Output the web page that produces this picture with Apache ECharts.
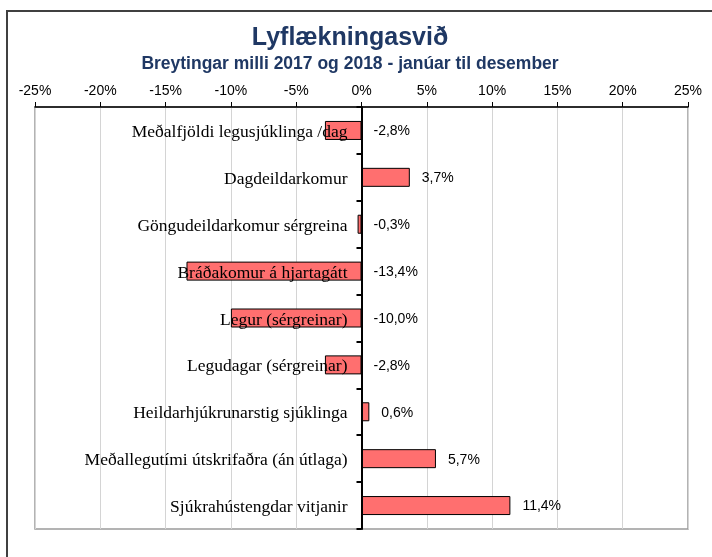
<!DOCTYPE html>
<html>
<head>
<meta charset="utf-8">
<script src="https://cdn.jsdelivr.net/npm/echarts@6/dist/echarts.min.js"></script>
<style>
  html, body { margin: 0; padding: 0; background: #fff; }
  #frame { position: absolute; left: 6px; top: 10px; width: 720px; height: 560px;
           border-top: 2px solid #404040; border-left: 2px solid #404040; }
  #chart { position: absolute; left: 0; top: 0; width: 712px; height: 557px; }
</style>
</head>
<body>
<div id="frame"></div>
<div id="chart"></div>
<script>
// flokkar og breytingar í %
var categories = [
    'Meðalfjöldi legusjúklinga /dag',
    'Dagdeildarkomur',
    'Göngudeildarkomur sérgreina',
    'Bráðakomur á hjartagátt',
    'Legur (sérgreinar)',
    'Legudagar (sérgreinar)',
    'Heildarhjúkrunarstig sjúklinga',
    'Meðallegutími útskrifaðra (án útlaga)',
    'Sjúkrahústengdar vitjanir'
];
var changes = [-2.8, 3.7, -0.3, -13.4, -10.0, -2.8, 0.6, 5.7, 11.4];

// hjálparraðir fyrir merkin: gildi hægra megin, heiti vinstra megin við núll
var labelAnchor = changes.map(function (v) { return Math.max(v, 0); });
var nameAnchor = changes.map(function () { return 0; });

function pct(v) {
    return v.toFixed(1).replace('.', ',') + '%';
}

var myChart = echarts.init(document.getElementById('chart'), null, { renderer: 'canvas' });

var option = {
    backgroundColor: 'transparent',
    animation: false,
    title: [{
        text: 'Lyflækningasvið',
        left: 345,
        top: 21,
        textAlign: 'center',
        textStyle: {
            fontFamily: 'Liberation Sans',
            fontSize: 25,
            fontWeight: 'bold',
            color: '#1f3864'
        }
    }, {
        text: 'Breytingar milli 2017 og 2018 - janúar til desember',
        left: 345,
        top: 50,
        textAlign: 'center',
        textStyle: {
            fontFamily: 'Liberation Sans',
            fontSize: 17.5,
            fontWeight: 'bold',
            color: '#1f3864'
        }
    }],
    grid: {
        left: 35,
        right: 24,
        top: 107,
        bottom: 28,
        containLabel: false,
        outerBoundsMode: 'none',
        show: true,
        borderColor: '#9a9a9a',
        borderWidth: 1.5
    },
    xAxis: {
        type: 'value',
        position: 'top',
        min: -25,
        max: 25,
        interval: 5,
        axisLine: { show: true, lineStyle: { color: '#000', width: 1.5 } },
        axisTick: { show: true, length: 5, lineStyle: { color: '#000', width: 1 } },
        axisLabel: {
            margin: 9,
            fontFamily: 'Liberation Sans',
            fontSize: 14,
            color: '#000',
            formatter: function (v) { return v + '%'; }
        },
        splitLine: { show: true, lineStyle: { color: '#d4d4d4', width: 1 } }
    },
    yAxis: {
        type: 'category',
        inverse: true,
        data: categories,
        z: 5,
        axisLine: { show: true, onZero: true, lineStyle: { color: '#000', width: 2 } },
        axisTick: { show: true, length: 5, lineStyle: { color: '#000', width: 2 } },
        axisLabel: { show: false },
        splitLine: { show: false }
    },
    series: [{
        name: 'Breyting',
        type: 'bar',
        barWidth: 19,
        data: changes,
        itemStyle: {
            color: '#ff6f6f',
            borderColor: '#000',
            borderWidth: 1
        }
    }, {
        name: 'gildi',
        type: 'bar',
        barWidth: 19,
        barGap: '-100%',
        silent: true,
        data: labelAnchor,
        itemStyle: { color: 'rgba(0,0,0,0)' },
        label: {
            show: true,
            position: 'right',
            distance: 12,
            offset: [0, 1],
            fontFamily: 'Liberation Sans',
            fontSize: 14,
            color: '#000',
            formatter: function (p) { return pct(changes[p.dataIndex]); }
        }
    }, {
        name: 'heiti',
        type: 'bar',
        barWidth: 19,
        barGap: '-100%',
        silent: true,
        z: 6,
        data: nameAnchor,
        itemStyle: { color: 'rgba(0,0,0,0)' },
        label: {
            show: true,
            position: 'left',
            distance: 14,
            offset: [0, 2],
            fontFamily: 'Liberation Serif',
            fontSize: 17.5,
            color: '#000',
            formatter: function (p) { return categories[p.dataIndex]; }
        }
    }]
};

myChart.setOption(option);
</script>
</body>
</html>
